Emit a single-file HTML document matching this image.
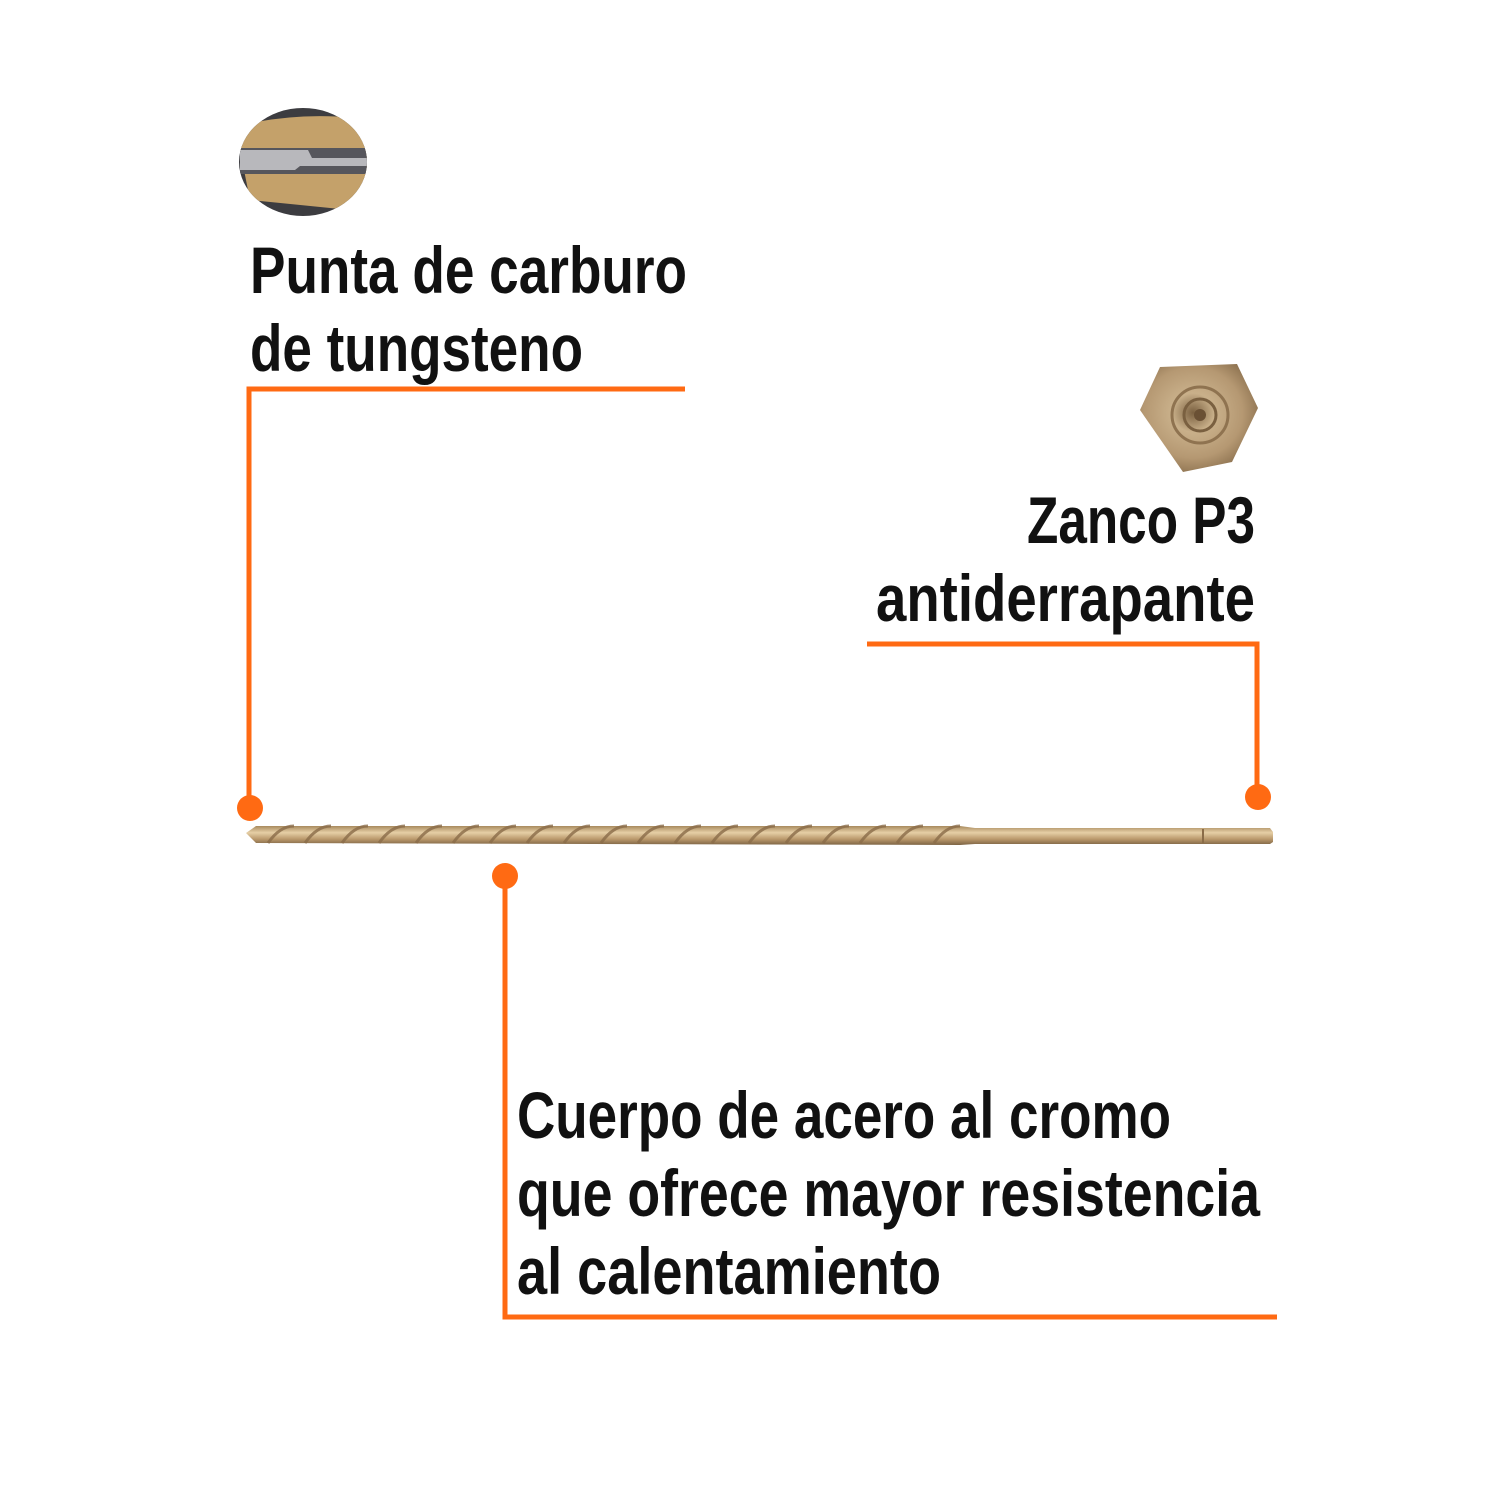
<!DOCTYPE html>
<html><head><meta charset="utf-8">
<style>html,body{margin:0;padding:0;background:#fff}svg{display:block}</style>
</head><body>
<svg width="1500" height="1500" viewBox="0 0 1500 1500" xmlns="http://www.w3.org/2000/svg">
<defs>
<linearGradient id="gold" x1="0" y1="0" x2="0" y2="1">
<stop offset="0" stop-color="#a88a5e"/><stop offset="0.35" stop-color="#e6cfa6"/><stop offset="0.7" stop-color="#b8976a"/><stop offset="1" stop-color="#7d6444"/>
</linearGradient>
<radialGradient id="hexg" cx="0.45" cy="0.45" r="0.6">
<stop offset="0" stop-color="#7a6040"/><stop offset="0.3" stop-color="#c9b08a"/><stop offset="0.7" stop-color="#b59872"/><stop offset="1" stop-color="#8a6f4d"/>
</radialGradient>
<clipPath id="cc"><ellipse cx="303" cy="162" rx="64" ry="54"/></clipPath>
</defs>
<rect width="1500" height="1500" fill="#fff"/>
<!-- tip icon -->
<g clip-path="url(#cc)">
<rect x="230" y="100" width="150" height="125" fill="#3c3c40"/>
<path d="M240 125 Q300 112 355 118 L367 145 L367 185 Q360 200 350 210 Q300 205 250 200 L240 150 Z" fill="#c4a16a"/>
<rect x="240" y="148" width="127" height="26" fill="#56565c"/>
<path d="M240 150 L308 150 L312 158 L367 158 L367 166 L300 166 L295 170 L240 170 Z" fill="#b8b8bc"/>
</g>
<!-- hex icon -->
<polygon points="1160,367 1237,364 1258,408 1232,462 1183,472 1140,410" fill="url(#hexg)"/>
<circle cx="1200" cy="415" r="28" fill="none" stroke="#8f7350" stroke-width="3"/>
<circle cx="1200" cy="415" r="16" fill="none" stroke="#7a6040" stroke-width="3"/>
<circle cx="1200" cy="415" r="6" fill="#6a5034"/>
<!-- drill -->
<path d="M246 833 L256 826 L960 826 L975 828 L1270 828 L1273 832 L1273 842 L1270 844 L975 844 L960 845 L256 843 Z" fill="url(#gold)"/>
<g stroke="#8a6c48" stroke-width="3" fill="none" opacity="0.8">
<path d="M268 843 q12 -17 26 -17 M305 843 q12 -17 26 -17 M342 843 q12 -17 26 -17 M379 843 q12 -17 26 -17 M416 843 q12 -17 26 -17 M453 843 q12 -17 26 -17 M490 843 q12 -17 26 -17 M527 843 q12 -17 26 -17 M564 843 q12 -17 26 -17 M601 843 q12 -17 26 -17 M638 843 q12 -17 26 -17 M675 843 q12 -17 26 -17 M712 843 q12 -17 26 -17 M749 843 q12 -17 26 -17 M786 843 q12 -17 26 -17 M823 843 q12 -17 26 -17 M860 843 q12 -17 26 -17 M897 843 q12 -17 26 -17 M934 843 q12 -17 26 -17"/>
</g>
<line x1="1203" y1="829" x2="1203" y2="843" stroke="#8a6c48" stroke-width="2"/>
<!-- connectors -->
<g stroke="#ff6a13" stroke-width="5" fill="none">
<polyline points="685,389 249,389 249,808"/>
<polyline points="867,644 1257,644 1257,797"/>
<polyline points="505,876 505,1317 1277,1317"/>
</g>
<g fill="#ff6a13">
<circle cx="250" cy="808" r="13"/><circle cx="1258" cy="797" r="13"/><circle cx="505" cy="876" r="13"/>
</g>
<!-- text -->
<g font-family="'Liberation Sans Narrow','Liberation Sans',sans-serif" font-weight="bold" font-size="66" fill="#111">
<text x="250" y="293" textLength="437" lengthAdjust="spacingAndGlyphs">Punta de carburo</text>
<text x="250" y="371" textLength="333" lengthAdjust="spacingAndGlyphs">de tungsteno</text>
<text x="1027" y="543" textLength="228" lengthAdjust="spacingAndGlyphs">Zanco P3</text>
<text x="876" y="621" textLength="379" lengthAdjust="spacingAndGlyphs">antiderrapante</text>
<text x="517" y="1138" textLength="654" lengthAdjust="spacingAndGlyphs">Cuerpo de acero al cromo</text>
<text x="517" y="1216" textLength="743" lengthAdjust="spacingAndGlyphs">que ofrece mayor resistencia</text>
<text x="517" y="1294" textLength="424" lengthAdjust="spacingAndGlyphs">al calentamiento</text>
</g>
</svg>
</body></html>
